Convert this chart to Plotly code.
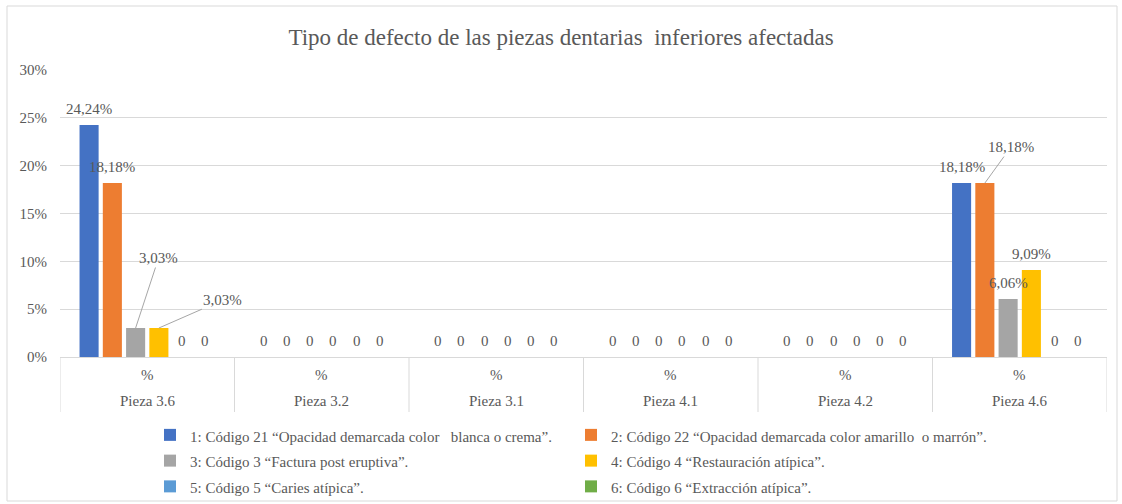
"""Tipo de defecto de las piezas dentarias inferiores afectadas - bar chart."""

import plotly.graph_objects as go

FONT = "Liberation Serif"
TEXT_COLOR = "#595959"
GRID_COLOR = "#d9d9d9"

# plot area in pixels (Excel layout)
L, R, T, B = 60, 1107, 70, 357
W, H = 1122, 504

piezas = ["Pieza 3.6", "Pieza 3.2", "Pieza 3.1", "Pieza 4.1", "Pieza 4.2", "Pieza 4.6"]
unidad = ["%", "%", "%", "%", "%", "%"]

nombres = [
    "1: Código 21 “Opacidad demarcada color\u00a0\u00a0 blanca o crema”.",
    "2: Código 22 “Opacidad demarcada color amarillo\u00a0 o marrón”.",
    "3: Código 3 “Factura post eruptiva”.",
    "4: Código 4 “Restauración atípica”.",
    "5: Código 5 “Caries atípica”.",
    "6: Código 6 “Extracción atípica”.",
]
codigo_21 = [24.24, 0, 0, 0, 0, 18.18]
codigo_22 = [18.18, 0, 0, 0, 0, 18.18]
codigo_3 = [3.03, 0, 0, 0, 0, 6.06]
codigo_4 = [3.03, 0, 0, 0, 0, 9.09]
codigo_5 = [0, 0, 0, 0, 0, 0]
codigo_6 = [0, 0, 0, 0, 0, 0]
valores = [codigo_21, codigo_22, codigo_3, codigo_4, codigo_5, codigo_6]
colores = ["#4472C4", "#ED7D31", "#A5A5A5", "#FFC000", "#5B9BD5", "#70AD47"]

# labels moved away from the bar with a leader line: (serie, grupo) -> (ax, ay) px
LEADER = {(2, 0): (23, -70), (3, 0): (64, -28), (1, 5): (26, -36)}

BARGAP = 0.2
BARGROUPGAP = 0.18


def _label(v: float) -> str:
    return "0" if v == 0 else f"{v:.2f}".replace(".", ",") + "%"


def _py(pixel_y: float) -> float:
    """Pixel row -> paper y."""
    return (B - pixel_y) / (B - T)


def _px(pixel_x: float) -> float:
    return (pixel_x - L) / (R - L)


label_font = {"family": FONT, "size": 15, "color": TEXT_COLOR}

fig = go.Figure()
n_series = len(valores)
slot = (1 - BARGAP) / n_series
for j, (name, vals, color) in enumerate(zip(nombres, valores, colores)):
    fig.add_trace(
        go.Bar(
            x=piezas,
            y=vals,
            name=f"<span style='font-size:15px'>{name}</span>",
            marker={"color": color, "line": {"width": 0}},
        )
    )
    # data labels
    for i, v in enumerate(vals):
        xc = i - (1 - BARGAP) / 2 + (j + 0.5) * slot
        if (j, i) in LEADER:
            ax, ay = LEADER[(j, i)]
            fig.add_annotation(
                x=xc, y=v, xref="x", yref="y", text=_label(v),
                showarrow=True, arrowhead=0, arrowwidth=1, arrowcolor="#a6a6a6",
                ax=ax, ay=ay, standoff=0, font=label_font,
            )
        else:
            fig.add_annotation(
                x=xc, y=v, xref="x", yref="y", text=_label(v),
                showarrow=False, yanchor="middle", yshift=16, font=label_font,
            )

# two-row category axis: "%" over "Pieza x.x", with dividers
for i, (p, u) in enumerate(zip(piezas, unidad)):
    fig.add_annotation(x=i, y=_py(375), xref="x", yref="paper", text=u,
                       showarrow=False, yanchor="middle", font=label_font)
    fig.add_annotation(x=i, y=_py(401), xref="x", yref="paper", text=p,
                       showarrow=False, yanchor="middle", font=label_font)
for k in range(len(piezas) + 1):
    fig.add_shape(type="line", xref="x", yref="paper", x0=k - 0.5, x1=k - 0.5,
                  y0=0, y1=_py(412), line={"color": GRID_COLOR, "width": 1})

# outer chart frame
fig.add_shape(
    type="rect", xref="paper", yref="paper",
    x0=_px(7), x1=_px(1117), y0=_py(501), y1=_py(6),
    line={"color": GRID_COLOR, "width": 1}, layer="below",
)

fig.update_layout(
    width=W,
    height=H,
    barmode="group",
    bargap=BARGAP,
    bargroupgap=BARGROUPGAP,
    plot_bgcolor="white",
    paper_bgcolor="white",
    margin={"l": L, "r": W - R, "t": T, "b": H - B, "autoexpand": False},
    font={"family": FONT, "color": TEXT_COLOR, "size": 15},
    title={
        "text": "Tipo de defecto de las piezas dentarias\u00a0 inferiores afectadas",
        "x": 0.5,
        "xanchor": "center",
        "y": 1 - 37 / H,
        "yanchor": "middle",
        "font": {"family": FONT, "size": 23, "color": TEXT_COLOR},
    },
    legend={
        "orientation": "h",
        "x": _px(150),
        "xanchor": "left",
        "y": _py(417),
        "yanchor": "top",
        "entrywidth": 376,
        "entrywidthmode": "pixels",
        "font": {"family": FONT, "size": 17.5, "color": TEXT_COLOR},
        "bgcolor": "rgba(0,0,0,0)",
    },
    showlegend=True,
)
fig.update_xaxes(
    type="category",
    showticklabels=False,
    showgrid=False,
    showline=True,
    linecolor=GRID_COLOR,
    ticks="",
    range=[-0.5, len(piezas) - 0.5],
)
fig.update_yaxes(
    range=[0, 30],
    dtick=5,
    ticksuffix="%",
    showgrid=True,
    gridcolor=GRID_COLOR,
    zeroline=False,
    showline=False,
    ticklabelstandoff=12,
    tickfont={"family": FONT, "size": 15, "color": TEXT_COLOR},
)

# the page body has a default 8px margin; drop it so the figure fills the window
fig.write_html(
    "out.html",
    config={"displayModeBar": False},
    post_script="document.body.style.margin='0';",
)
